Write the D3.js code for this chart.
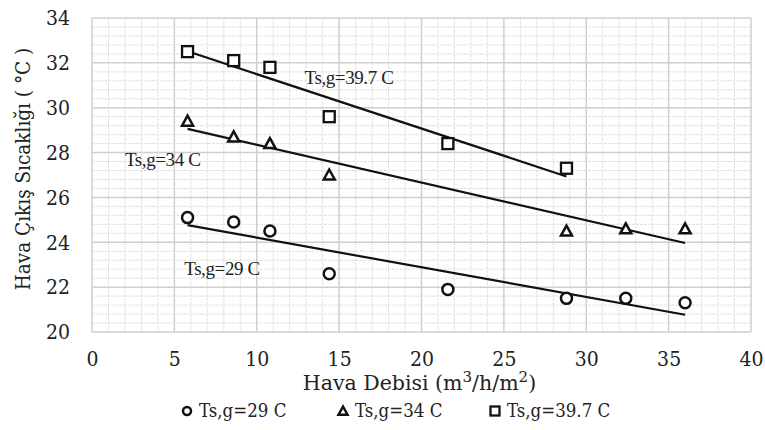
<!DOCTYPE html>
<html>
<head>
<meta charset="utf-8">
<script src="https://cdn.jsdelivr.net/npm/d3@7"></script>
<style>
  body { margin: 0; background: #fff; }
  svg text { fill: #222; }
</style>
</head>
<body>
<div id="chart"></div>
<script>
// data
const debi = [5.8, 8.6, 10.8, 14.4, 21.6, 28.8, 32.4, 36];
const t29 = [25.1, 24.9, 24.5, 22.6, 21.9, 21.5, 21.5, 21.3];
const x34 = [5.8, 8.6, 10.8, 14.4, 28.8, 32.4, 36];
const t34 = [29.4, 28.7, 28.4, 27.0, 24.5, 24.6, 24.6];
const x397 = [5.8, 8.6, 10.8, 14.4, 21.6, 28.8];
const t397 = [32.5, 32.1, 31.8, 29.6, 28.4, 27.3];
const seriesNames = ['Ts,g=29 C', 'Ts,g=34 C', 'Ts,g=39.7 C'];
const xTicks = [0, 5, 10, 15, 20, 25, 30, 35, 40];
const yTicks = [20, 22, 24, 26, 28, 30, 32, 34];
// label anchor points (data units)
const labelX = [5.6, 2.0, 12.9];
const labelY = [22.55, 27.4, 31.05];

const width = 765, height = 430;
const pLeft = 92, pRight = 751, pTop = 18, pBottom = 332;

const x = d3.scaleLinear().domain([0, 40]).range([pLeft, pRight]);
const y = d3.scaleLinear().domain([20, 34]).range([pBottom, pTop]);

const svg = d3.select('#chart').append('svg')
    .attr('width', width)
    .attr('height', height);

const tickFont = '"DejaVu Serif Condensed", "DejaVu Serif", serif';

// minor grid
svg.append('g')
    .selectAll('line')
    .data(d3.range(0, 40.01, 1).filter(v => v % 5 !== 0))
    .join('line')
    .attr('x1', d => x(d)).attr('x2', d => x(d))
    .attr('y1', pTop).attr('y2', pBottom)
    .attr('stroke', '#e0e0e0').attr('stroke-dasharray', '3,1');
svg.append('g')
    .selectAll('line')
    .data(d3.range(20, 34.01, 0.4).filter(v => Math.abs(v / 2 - Math.round(v / 2)) > 0.01))
    .join('line')
    .attr('y1', d => y(d)).attr('y2', d => y(d))
    .attr('x1', pLeft).attr('x2', pRight)
    .attr('stroke', '#e0e0e0').attr('stroke-dasharray', '3,1');

// major grid
svg.append('g')
    .selectAll('line')
    .data(xTicks)
    .join('line')
    .attr('x1', d => x(d)).attr('x2', d => x(d))
    .attr('y1', pTop).attr('y2', pBottom)
    .attr('stroke', '#cfcfcf').attr('stroke-width', 1.5);
svg.append('g')
    .selectAll('line')
    .data(yTicks)
    .join('line')
    .attr('y1', d => y(d)).attr('y2', d => y(d))
    .attr('x1', pLeft).attr('x2', pRight)
    .attr('stroke', '#cfcfcf').attr('stroke-width', 1.5);

// axes (labels only)
const xAxis = svg.append('g')
    .attr('transform', `translate(0,${pBottom})`)
    .call(d3.axisBottom(x).tickValues(xTicks).tickSize(0).tickPadding(19));
const yAxis = svg.append('g')
    .attr('transform', `translate(${pLeft},0)`)
    .call(d3.axisLeft(y).tickValues(yTicks).tickSize(0).tickPadding(22));
[xAxis, yAxis].forEach(a => {
    a.select('.domain').remove();
    a.selectAll('text')
        .attr('font-family', tickFont)
        .attr('font-size', 21)
        .attr('fill', '#222');
});

// regression line
function fit(xs, ys) {
    const mx = d3.mean(xs), my = d3.mean(ys);
    const b = d3.sum(xs, (v, i) => (v - mx) * (ys[i] - my)) / d3.sum(xs, v => (v - mx) * (v - mx));
    return v => my + b * (v - mx);
}

const groups = [[debi, t29], [x34, t34], [x397, t397]];
const line = d3.line().x(d => x(d[0])).y(d => y(d[1]));

groups.forEach(([xs, ys]) => {
    const f = fit(xs, ys);
    const ends = d3.extent(xs);
    svg.append('path')
        .datum(ends.map(v => [v, f(v)]))
        .attr('d', line)
        .attr('fill', 'none')
        .attr('stroke', '#111')
        .attr('stroke-width', 2.2);
});

// markers
function marker(g, type, cx, cy, s) {
    if (type === 0) {
        g.append('circle').attr('cx', cx).attr('cy', cy).attr('r', s)
            .attr('fill', '#fff').attr('stroke', '#111').attr('stroke-width', 2.5);
    } else if (type === 1) {
        g.append('path')
            .attr('d', `M${cx},${cy - s}L${cx + s},${cy + s * 0.82}L${cx - s},${cy + s * 0.82}Z`)
            .attr('fill', '#fff').attr('stroke', '#111').attr('stroke-width', 2.5);
    } else {
        g.append('rect').attr('x', cx - s).attr('y', cy - s).attr('width', 2 * s).attr('height', 2 * s)
            .attr('fill', '#fff').attr('stroke', '#111').attr('stroke-width', 2.3);
    }
}

const pts = svg.append('g');
groups.forEach(([xs, ys], k) => {
    xs.forEach((v, i) => marker(pts, k, x(v), y(ys[i]), 5.5));
});

// in-plot labels
svg.append('g')
    .selectAll('text')
    .data(seriesNames)
    .join('text')
    .attr('x', (d, i) => x(labelX[i]))
    .attr('y', (d, i) => y(labelY[i]))
    .attr('font-family', '"Liberation Serif", serif')
    .attr('font-size', 19)
    .attr('letter-spacing', -0.4)
    .text(d => d);

// axis titles
const xt = svg.append('text')
    .attr('x', (pLeft + pRight) / 2 - 2)
    .attr('y', 390)
    .attr('text-anchor', 'middle')
    .attr('font-family', '"DejaVu Serif", serif')
    .attr('font-size', 20.5);
xt.append('tspan').text('Hava Debisi (m');
xt.append('tspan').attr('dy', -8).attr('font-size', 15).text('3');
xt.append('tspan').attr('dy', 8).text('/h/m');
xt.append('tspan').attr('dy', -8).attr('font-size', 15).text('2');
xt.append('tspan').attr('dy', 8).text(')');

svg.append('text')
    .attr('transform', `translate(30,${(pTop + pBottom) / 2 - 6}) rotate(-90)`)
    .attr('text-anchor', 'middle')
    .attr('font-family', tickFont)
    .attr('font-size', 20.5)
    .text('Hava Çıkış Sıcaklığı ( °C )');

// legend
const legendX = [187, 343, 495];
const lg = svg.append('g');
seriesNames.forEach((name, k) => {
    marker(lg, k, legendX[k], 411, k === 0 ? 4 : 4.5);
    lg.append('text')
        .attr('x', legendX[k] + 12)
        .attr('y', 417)
        .attr('font-family', tickFont)
        .attr('font-size', 18.5)
        .text(name);
});
</script>
</body>
</html>
